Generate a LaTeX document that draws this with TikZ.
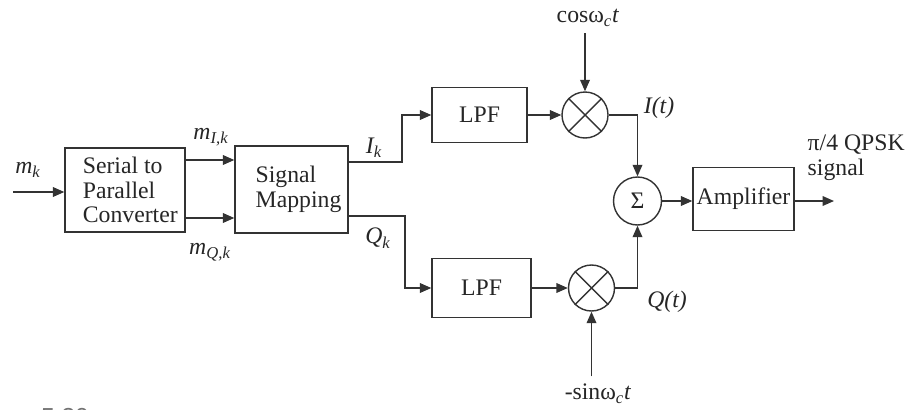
\documentclass[tikz,border=0pt]{standalone}
\usepackage{amsmath}
\usepackage{fontspec}
\setmainfont{Liberation Serif}
\newfontfamily\capfont{Liberation Sans}
\usepackage{tikz}
\usetikzlibrary{arrows.meta,positioning}

\begin{document}
\begin{tikzpicture}[
    x=0.02cm, y=-0.02cm,
    >={Triangle[length=6.5pt,width=5.5pt]},
    line width=0.8pt,
    color=black!80,
    txt/.style={font=\fontsize{13.5}{14}\selectfont, text=black!85},
    block/.style={
      txt,
      draw,
      rectangle,
      align=left,
      inner sep=0pt
    },
    mixer/.style={draw, circle, minimum size=0.92cm, inner sep=0pt},
    every edge/.style={draw,->}
  ]
  \useasboundingbox (0,0) rectangle (911,409);
  \clip (0,0) rectangle (911,409);

  % blocks
  \node[block, minimum width=2.4cm, minimum height=1.68cm] (serpar) at (125,190)
    {\hspace*{6pt}Serial to\\\hspace*{6pt}Parallel\\\hspace*{6pt}Converter};
  \node[block, minimum width=2.26cm, minimum height=1.74cm] (sigmap) at (291.5,189.5)
    {\hspace*{8pt}Signal\\\hspace*{8pt}Mapping};
  \node[block, minimum width=1.9cm, minimum height=1.1cm] (lpfI) at (479.5,115) {LPF};
  \node[block, minimum width=1.98cm, minimum height=1.18cm] (lpfQ) at (481.5,288) {LPF};
  \node[block, minimum width=2.02cm, minimum height=1.26cm] (amp) at (743.5,199) {Amplifier};

  % mixers and summer
  \node[mixer] (mixI) at (585,115) {};
  \node[mixer] (mixQ) at (591.5,288) {};
  \node[mixer, txt, minimum size=0.96cm] (sum) at (637.5,201) {Σ};
  \draw (mixI.45) -- (mixI.225) (mixI.135) -- (mixI.-45);
  \draw (mixQ.45) -- (mixQ.225) (mixQ.135) -- (mixQ.-45);

  % labels
  \node[txt] (mk) at (28,170) {$\textit{m}_{\textit{k}}$};
  \node[txt] (mIk) at (211,137) {$\textit{m}_{\textit{I,k}}$};
  \node[txt] (mQk) at (210,252) {$\textit{m}_{\textit{Q,k}}$};
  \node[txt] (Ik) at (374,148) {$\textit{I}_{\textit{k}}$};
  \node[txt] (Qk) at (378,238) {$\textit{Q}_{\textit{k}}$};
  \node[txt] (coslbl) at (588,18) {cosω$_{\textit{c}}$\textit{t}};
  \node[txt, inner sep=4pt] (sinlbl) at (598,394) {-sinω$_{\textit{c}}$\textit{t}};
  \node[txt] (It) at (659,108) {\textit{I(t)}};
  \node[txt] (Qt) at (667,302) {\textit{Q(t)}};
  \node[txt, anchor=north west, align=left, inner sep=0pt] (outlbl) at (807,134)
    {π/4 QPSK\\signal};
  \node[anchor=base west, inner sep=0pt, text=black!55,
    font=\capfont\fontsize{14}{14}\selectfont] (cap) at (-2,425) {ure 5.30};

  \coordinate (in) at (13,192);
  \coordinate (out) at (834,201);

  % connectors
  \path (in) edge (serpar.west |- in)
        (serpar.east |- 0,160) edge (sigmap.west |- 0,160)
        (serpar.east |- 0,218) edge (sigmap.west |- 0,218);
  \draw[->] (sigmap.east |- 0,162) -- (402,162) |- (lpfI);
  \draw[->] (sigmap.east |- 0,216) -- (405,216) |- (lpfQ);
  \path (lpfI) edge (mixI)
        (lpfQ) edge (mixQ)
        (coslbl.south -| mixI) edge (mixI)
        (sinlbl.north -| mixQ) edge (mixQ);
  \draw[->] (mixI) -| (sum);
  \draw[->] (mixQ) -| (sum);
  \path (sum) edge (sum -| amp.west)
        (amp.east |- out) edge (out);
\end{tikzpicture}
\end{document}
